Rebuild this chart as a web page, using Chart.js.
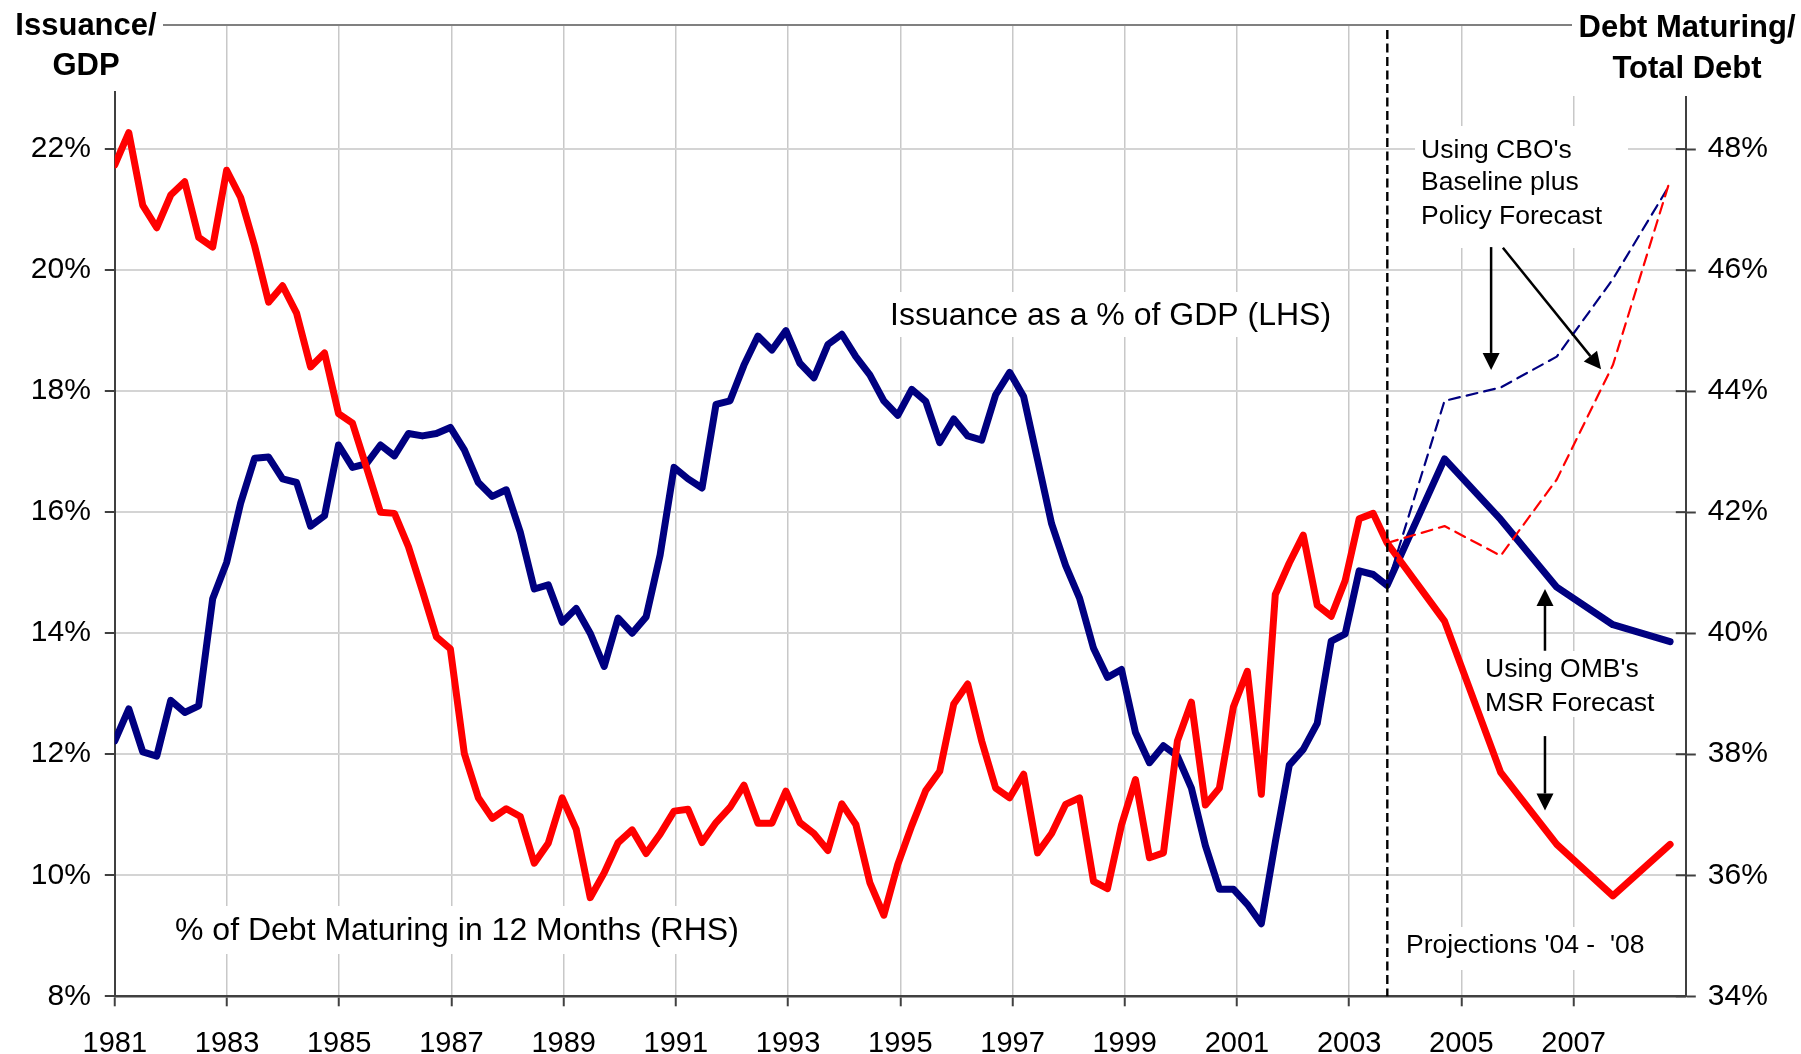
<!DOCTYPE html>
<html>
<head>
<meta charset="utf-8">
<script src="https://cdn.jsdelivr.net/npm/chart.js@4.4.1/dist/chart.umd.min.js"></script>
<style>
  html, body { margin: 0; padding: 0; background: #fff; }
  #wrap { width: 1801px; height: 1054px; }
</style>
</head>
<body>
<div id="wrap"><canvas id="chart" width="1801" height="1054"></canvas></div>
<script>
const firstYear = 1981;
const quarterStep = 0.2492; // spacing of the quarterly points

// Issuance as a % of GDP, quarterly 1981Q1 - 2003Q4 (left axis)
const issuance = [
  12.22, 12.75, 12.04, 11.97,  12.89, 12.69, 12.80, 14.57,
  15.17, 16.15, 16.89, 16.91,  16.55, 16.49, 15.77, 15.94,
  17.11, 16.74, 16.80, 17.11,  16.93, 17.30, 17.26, 17.30,
  17.40, 17.03, 16.49, 16.26,  16.37, 15.67, 14.73, 14.80,
  14.18, 14.41, 14.00, 13.45,  14.25, 14.00, 14.27, 15.29,
  16.74, 16.55, 16.40, 17.78,  17.84, 18.43, 18.91, 18.68,
  19.00, 18.46, 18.22, 18.77,  18.94, 18.57, 18.27, 17.84,
  17.60, 18.03, 17.83, 17.15,  17.54, 17.26, 17.19, 17.94,
  18.31, 17.91, 16.86, 15.81,  15.12, 14.58, 13.75, 13.27,
  13.40, 12.36, 11.86, 12.14,  11.97, 11.44, 10.49, 9.77,
  9.77, 9.52, 9.20, 10.55,     11.82, 12.08, 12.51, 13.87,
  13.99, 15.03, 14.97, 14.79
];

// % of debt maturing in 12 months, quarterly 1981Q1 - 2003Q4 (right axis)
const maturing = [
  47.74, 48.27, 47.07, 46.70,  47.24, 47.46, 46.54, 46.38,
  47.65, 47.20, 46.40, 45.47,  45.74, 45.29, 44.40, 44.63,
  43.63, 43.47, 42.74, 42.00,  41.98, 41.43, 40.70, 39.94,
  39.74, 38.01, 37.28, 36.94,  37.10, 36.97, 36.20, 36.53,
  37.28, 36.76, 35.63, 36.04,  36.54, 36.75, 36.36, 36.68,
  37.06, 37.09, 36.54, 36.87,  37.12, 37.49, 36.86, 36.86,
  37.39, 36.87, 36.69, 36.41,  37.18, 36.84, 35.88, 35.34,
  36.18, 36.82, 37.40, 37.72,  38.83, 39.16, 38.22, 37.44,
  37.28, 37.67, 36.37, 36.69,  37.17, 37.28, 35.90, 35.78,
  36.83, 37.58, 36.29, 36.37,  38.22, 38.86, 37.16, 37.44,
  38.78, 39.37, 37.34, 40.64,  41.16, 41.62, 40.46, 40.28,
  40.87, 41.89, 41.98, 41.49
];

// projections '04 - '08
const projYears = [2004.7, 2005.7, 2006.7, 2007.7, 2008.72];
const issuanceOMB = [16.88, 15.88, 14.76, 14.14, 13.86];
const maturingOMB = [40.20, 37.70, 36.51, 35.66, 36.51];
const issuanceCBO = [17.84, 18.06, 18.57, 19.85, 21.42];
const maturingCBO = [41.77, 41.28, 42.54, 44.43, 47.49];
const projectionStart = 2003.68;

const yearTicks = [1981, 1983, 1985, 1987, 1989, 1991, 1993, 1995, 1997, 1999, 2001, 2003, 2005, 2007];
const leftTicks = [8, 10, 12, 14, 16, 18, 20, 22];
const rightTicks = [34, 36, 38, 40, 42, 44, 46, 48];

const FONT = "'Liberation Sans', Arial, sans-serif";
const BLUE = '#000080';
const RED = '#ff0000';
const AXIS = '#404040';

const histX = issuance.map((_, i) => firstYear + i * quarterStep);
const lastX = histX[histX.length - 1];

function pts(xs, ys) {
  return ys.map((v, i) => ({ x: xs[i], y: v }));
}

const blueSolid = pts(histX, issuance).concat(pts(projYears, issuanceOMB));
const redSolid = pts(histX, maturing).concat(pts(projYears, maturingOMB));
const blueDash = [{ x: lastX, y: issuance[issuance.length - 1] }].concat(pts(projYears, issuanceCBO));
const redDash = [{ x: lastX, y: maturing[maturing.length - 1] }].concat(pts(projYears, maturingCBO));

// white boxes behind the text labels (they hide the grid, as in the original)
const boxes = [
  [0, 0, 163, 91],
  [1572, 0, 229, 96],
  [885, 292, 453, 45],
  [170, 906, 575, 48],
  [1415, 126, 213, 122],
  [1480, 651, 180, 66],
  [1400, 927, 250, 43]
];

const texts = [
  { t: 'Issuance/', x: 86, y: 35, font: 'bold 31px ' + FONT, align: 'center' },
  { t: 'GDP', x: 86, y: 74.5, font: 'bold 31px ' + FONT, align: 'center' },
  { t: 'Debt Maturing/', x: 1687, y: 37, font: 'bold 31px ' + FONT, align: 'center' },
  { t: 'Total Debt', x: 1687, y: 77.5, font: 'bold 31px ' + FONT, align: 'center' },
  { t: 'Issuance as a % of GDP (LHS)', x: 890, y: 325, font: '32px ' + FONT },
  { t: '% of Debt Maturing in 12 Months (RHS)', x: 175, y: 940, font: '32px ' + FONT },
  { t: "Using CBO's", x: 1421, y: 157.5, font: '26.5px ' + FONT },
  { t: 'Baseline plus', x: 1421, y: 190, font: '26.5px ' + FONT },
  { t: 'Policy Forecast', x: 1421, y: 223.5, font: '26.5px ' + FONT },
  { t: "Using OMB's", x: 1485, y: 677, font: '26.5px ' + FONT },
  { t: 'MSR Forecast', x: 1485, y: 710.5, font: '26.5px ' + FONT },
  { t: "Projections '04 -  '08", x: 1406, y: 953, font: '26.5px ' + FONT }
];

// arrows in data units of the left axis: [x1, y1, x2 (tip), y2 (tip)]
const arrows = [
  [2005.53, 20.38, 2005.53, 18.35],
  [2005.74, 20.37, 2007.49, 18.36],
  [2006.49, 13.71, 2006.49, 14.73],
  [2006.49, 12.30, 2006.49, 11.07]
];

function drawArrow(ctx, x1, y1, x2, y2) {
  const ang = Math.atan2(y2 - y1, x2 - x1);
  const head = 17, half = 8.5;
  const bx = x2 - head * Math.cos(ang), by = y2 - head * Math.sin(ang);
  ctx.beginPath();
  ctx.moveTo(x1, y1);
  ctx.lineTo(bx, by);
  ctx.stroke();
  ctx.beginPath();
  ctx.moveTo(x2, y2);
  ctx.lineTo(bx + half * Math.sin(ang), by - half * Math.cos(ang));
  ctx.lineTo(bx - half * Math.sin(ang), by + half * Math.cos(ang));
  ctx.closePath();
  ctx.fill();
}

const decor = {
  id: 'decor',
  beforeDatasetsDraw(chart) {
    const { ctx, chartArea: a, scales } = chart;
    ctx.save();
    // top frame line
    ctx.strokeStyle = '#808080';
    ctx.lineWidth = 2;
    ctx.beginPath();
    ctx.moveTo(a.left, a.top);
    ctx.lineTo(a.right, a.top);
    ctx.stroke();
    // inner half of the right-axis ticks
    ctx.strokeStyle = AXIS;
    ctx.lineWidth = 2;
    rightTicks.forEach((v) => {
      const py = scales.y2.getPixelForValue(v);
      ctx.beginPath();
      ctx.moveTo(a.right - 10, py);
      ctx.lineTo(a.right, py);
      ctx.stroke();
    });
    ctx.fillStyle = '#fff';
    boxes.forEach((b) => ctx.fillRect(b[0], b[1], b[2], b[3]));
    ctx.restore();
  },
  afterDatasetsDraw(chart) {
    const { ctx, chartArea: a, scales } = chart;
    const x = scales.x, y = scales.y;
    ctx.save();
    // start of projections
    const px = x.getPixelForValue(projectionStart);
    ctx.strokeStyle = '#000';
    ctx.lineWidth = 2.4;
    ctx.setLineDash([9, 4.5]);
    ctx.beginPath();
    ctx.moveTo(px, a.top + 5);
    ctx.lineTo(px, a.bottom);
    ctx.stroke();
    ctx.setLineDash([]);

    ctx.lineWidth = 2.5;
    ctx.fillStyle = '#000';
    arrows.forEach((r) => drawArrow(ctx,
      x.getPixelForValue(r[0]), y.getPixelForValue(r[1]),
      x.getPixelForValue(r[2]), y.getPixelForValue(r[3])));

    ctx.fillStyle = '#000';
    ctx.textBaseline = 'alphabetic';
    texts.forEach((t) => {
      ctx.font = t.font;
      ctx.textAlign = t.align || 'left';
      ctx.fillText(t.t, t.x, t.y);
    });
    ctx.restore();
  }
};

const yFont = { family: FONT, size: 30 };
const xFont = { family: FONT, size: 29 };

// fixed axis sizes, so the plot area sits where it does in the original
function fitY(width) {
  return (s) => {
    s.width = width;
    s.paddingTop = 0;
    s.paddingBottom = 0;
  };
}

new Chart(document.getElementById('chart'), {
  type: 'line',
  data: {
    datasets: [
      { data: redDash, yAxisID: 'y2', borderColor: RED, borderWidth: 2.2, borderDash: [11, 7], order: 1 },
      { data: blueDash, yAxisID: 'y', borderColor: BLUE, borderWidth: 2.2, borderDash: [11, 7], order: 2 },
      { data: redSolid, yAxisID: 'y2', borderColor: RED, borderWidth: 7, order: 3 },
      { data: blueSolid, yAxisID: 'y', borderColor: BLUE, borderWidth: 7, order: 4 }
    ]
  },
  options: {
    responsive: false,
    animation: false,
    devicePixelRatio: 1,
    layout: { padding: { top: 25, left: 0, right: 0, bottom: 0 } },
    elements: {
      point: { radius: 0, hoverRadius: 0 },
      line: { tension: 0, fill: false, borderJoinStyle: 'round', borderCapStyle: 'round' }
    },
    plugins: { legend: { display: false }, tooltip: { enabled: false } },
    scales: {
      x: {
        type: 'linear',
        min: 1981,
        max: 2009,
        afterBuildTicks: (s) => { s.ticks = yearTicks.map((v) => ({ value: v })); },
        afterFit: (s) => { s.height = 57.7; s.paddingLeft = 0; s.paddingRight = 0; },
        grid: { color: '#c8c8c8', lineWidth: 1.5, tickLength: 10, tickColor: AXIS, tickWidth: 2 },
        border: { color: AXIS, width: 2.5 },
        ticks: { font: xFont, color: '#000', padding: 20, maxRotation: 0, autoSkip: false, callback: (v) => String(v) }
      },
      y: {
        position: 'left',
        min: 8,
        max: 24.05,
        afterBuildTicks: (s) => { s.ticks = leftTicks.map((v) => ({ value: v })); },
        afterFit: fitY(114.8),
        grid: { color: '#d4d4d4', lineWidth: 2, tickLength: 10, tickColor: AXIS, tickWidth: 2 },
        border: { color: AXIS, width: 2 },
        ticks: { font: yFont, color: '#000', padding: 14, callback: (v) => v + '%' }
      },
      y2: {
        position: 'right',
        min: 34,
        max: 50.05,
        afterBuildTicks: (s) => { s.ticks = rightTicks.map((v) => ({ value: v })); },
        afterFit: fitY(115.2),
        grid: { drawOnChartArea: false, tickLength: 10, tickColor: AXIS, tickWidth: 2 },
        border: { color: AXIS, width: 2 },
        ticks: { font: yFont, color: '#000', padding: 12, callback: (v) => v + '%' }
      }
    }
  },
  plugins: [decor]
});
</script>
</body>
</html>
